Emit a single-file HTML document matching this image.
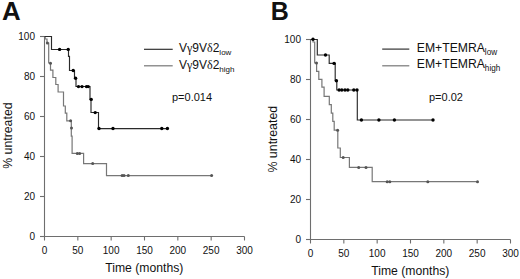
<!DOCTYPE html>
<html><head><meta charset="utf-8"><style>
html,body{margin:0;padding:0;background:#fff;}
svg{display:block;}
text{font-family:"Liberation Sans", sans-serif;fill:#111;}
</style></head><body>
<svg width="520" height="279" viewBox="0 0 520 279">
<rect width="520" height="279" fill="#fff"/>
<path d="M44.5,36 V236.5 H244.5" fill="none" stroke="#6e6e6e" stroke-width="1.1"/>
<line x1="40" y1="236.5" x2="44.5" y2="236.5" stroke="#6e6e6e" stroke-width="1.1"/>
<text x="35" y="240.1" text-anchor="end" font-size="10">0</text>
<line x1="40" y1="196.5" x2="44.5" y2="196.5" stroke="#6e6e6e" stroke-width="1.1"/>
<text x="35" y="200.1" text-anchor="end" font-size="10">20</text>
<line x1="40" y1="156.5" x2="44.5" y2="156.5" stroke="#6e6e6e" stroke-width="1.1"/>
<text x="35" y="160.1" text-anchor="end" font-size="10">40</text>
<line x1="40" y1="116.5" x2="44.5" y2="116.5" stroke="#6e6e6e" stroke-width="1.1"/>
<text x="35" y="120.1" text-anchor="end" font-size="10">60</text>
<line x1="40" y1="76.5" x2="44.5" y2="76.5" stroke="#6e6e6e" stroke-width="1.1"/>
<text x="35" y="80.1" text-anchor="end" font-size="10">80</text>
<line x1="40" y1="36.5" x2="44.5" y2="36.5" stroke="#6e6e6e" stroke-width="1.1"/>
<text x="35" y="40.1" text-anchor="end" font-size="10">100</text>
<line x1="44.5" y1="236.5" x2="44.5" y2="240.5" stroke="#6e6e6e" stroke-width="1.1"/>
<text x="44.5" y="253.6" text-anchor="middle" font-size="10">0</text>
<line x1="77.83333333333334" y1="236.5" x2="77.83333333333334" y2="240.5" stroke="#6e6e6e" stroke-width="1.1"/>
<text x="77.83333333333334" y="253.6" text-anchor="middle" font-size="10">50</text>
<line x1="111.16666666666667" y1="236.5" x2="111.16666666666667" y2="240.5" stroke="#6e6e6e" stroke-width="1.1"/>
<text x="111.16666666666667" y="253.6" text-anchor="middle" font-size="10">100</text>
<line x1="144.5" y1="236.5" x2="144.5" y2="240.5" stroke="#6e6e6e" stroke-width="1.1"/>
<text x="144.5" y="253.6" text-anchor="middle" font-size="10">150</text>
<line x1="177.83333333333334" y1="236.5" x2="177.83333333333334" y2="240.5" stroke="#6e6e6e" stroke-width="1.1"/>
<text x="177.83333333333334" y="253.6" text-anchor="middle" font-size="10">200</text>
<line x1="211.16666666666666" y1="236.5" x2="211.16666666666666" y2="240.5" stroke="#6e6e6e" stroke-width="1.1"/>
<text x="211.16666666666666" y="253.6" text-anchor="middle" font-size="10">250</text>
<line x1="244.5" y1="236.5" x2="244.5" y2="240.5" stroke="#6e6e6e" stroke-width="1.1"/>
<text x="244.5" y="253.6" text-anchor="middle" font-size="10">300</text>
<path d="M44.5,36.5 H45.2 V39 H47 V43 H48.7 V63 H50.5 V70.2 H52.9 V77.5 H55.8 V84.5 H58.1 V92 H63.5 V106 H65.3 V113.2 H66.8 V120.8 H71.3 V136.2 H72.1 V153.4 H83.6 V163.6 H106.5 V175.6 H211.6" fill="none" stroke="#777777" stroke-width="1.2"/>
<circle cx="47.4" cy="42.9" r="1.5" fill="#555"/>
<circle cx="50.5" cy="63.2" r="1.5" fill="#555"/>
<circle cx="70.6" cy="120.8" r="1.5" fill="#555"/>
<circle cx="71.5" cy="128.1" r="1.5" fill="#555"/>
<circle cx="77.3" cy="153.4" r="1.5" fill="#555"/>
<circle cx="79.6" cy="153.4" r="1.5" fill="#555"/>
<circle cx="92.7" cy="163.6" r="1.5" fill="#555"/>
<circle cx="122.1" cy="175.6" r="1.5" fill="#555"/>
<circle cx="124" cy="175.6" r="1.5" fill="#555"/>
<circle cx="128.3" cy="175.6" r="1.5" fill="#555"/>
<circle cx="211.6" cy="175.6" r="1.5" fill="#555"/>
<path d="M44.5,36.5 H51.5 V49.5 H68.5 V56.3 H69.5 V70.5 H74.5 V78.5 H76 V86.5 H90 V99.5 H91 V112.5 H98.5 V128.6 H167.7" fill="none" stroke="#2a2a2a" stroke-width="1.15"/>
<circle cx="59.6" cy="49.4" r="1.7" fill="#000"/>
<circle cx="68.2" cy="49.4" r="1.7" fill="#000"/>
<circle cx="73.2" cy="70.5" r="1.7" fill="#000"/>
<circle cx="75.6" cy="78.2" r="1.7" fill="#000"/>
<circle cx="78.5" cy="86.6" r="1.7" fill="#000"/>
<circle cx="82" cy="86.6" r="1.7" fill="#000"/>
<circle cx="86.5" cy="86.6" r="1.7" fill="#000"/>
<circle cx="88.2" cy="86.6" r="1.7" fill="#000"/>
<circle cx="91.2" cy="99.4" r="1.7" fill="#000"/>
<circle cx="95.2" cy="112.6" r="1.7" fill="#000"/>
<circle cx="99" cy="128.5" r="1.7" fill="#000"/>
<circle cx="113" cy="128.5" r="1.7" fill="#000"/>
<circle cx="161.8" cy="128.5" r="1.7" fill="#000"/>
<circle cx="167.4" cy="128.5" r="1.7" fill="#000"/>
<path d="M310.5,39 V239.5 H510.5" fill="none" stroke="#6e6e6e" stroke-width="1.1"/>
<line x1="306" y1="239.5" x2="310.5" y2="239.5" stroke="#6e6e6e" stroke-width="1.1"/>
<text x="301" y="243.1" text-anchor="end" font-size="10">0</text>
<line x1="306" y1="199.5" x2="310.5" y2="199.5" stroke="#6e6e6e" stroke-width="1.1"/>
<text x="301" y="203.1" text-anchor="end" font-size="10">20</text>
<line x1="306" y1="159.5" x2="310.5" y2="159.5" stroke="#6e6e6e" stroke-width="1.1"/>
<text x="301" y="163.1" text-anchor="end" font-size="10">40</text>
<line x1="306" y1="119.5" x2="310.5" y2="119.5" stroke="#6e6e6e" stroke-width="1.1"/>
<text x="301" y="123.1" text-anchor="end" font-size="10">60</text>
<line x1="306" y1="79.5" x2="310.5" y2="79.5" stroke="#6e6e6e" stroke-width="1.1"/>
<text x="301" y="83.1" text-anchor="end" font-size="10">80</text>
<line x1="306" y1="39.5" x2="310.5" y2="39.5" stroke="#6e6e6e" stroke-width="1.1"/>
<text x="301" y="43.1" text-anchor="end" font-size="10">100</text>
<line x1="310.5" y1="239.5" x2="310.5" y2="243.5" stroke="#6e6e6e" stroke-width="1.1"/>
<text x="310.5" y="257.2" text-anchor="middle" font-size="10">0</text>
<line x1="343.8333333333333" y1="239.5" x2="343.8333333333333" y2="243.5" stroke="#6e6e6e" stroke-width="1.1"/>
<text x="343.8333333333333" y="257.2" text-anchor="middle" font-size="10">50</text>
<line x1="377.1666666666667" y1="239.5" x2="377.1666666666667" y2="243.5" stroke="#6e6e6e" stroke-width="1.1"/>
<text x="377.1666666666667" y="257.2" text-anchor="middle" font-size="10">100</text>
<line x1="410.5" y1="239.5" x2="410.5" y2="243.5" stroke="#6e6e6e" stroke-width="1.1"/>
<text x="410.5" y="257.2" text-anchor="middle" font-size="10">150</text>
<line x1="443.83333333333337" y1="239.5" x2="443.83333333333337" y2="243.5" stroke="#6e6e6e" stroke-width="1.1"/>
<text x="443.83333333333337" y="257.2" text-anchor="middle" font-size="10">200</text>
<line x1="477.16666666666663" y1="239.5" x2="477.16666666666663" y2="243.5" stroke="#6e6e6e" stroke-width="1.1"/>
<text x="477.16666666666663" y="257.2" text-anchor="middle" font-size="10">250</text>
<line x1="510.5" y1="239.5" x2="510.5" y2="243.5" stroke="#6e6e6e" stroke-width="1.1"/>
<text x="510.5" y="257.2" text-anchor="middle" font-size="10">300</text>
<path d="M310.5,39.5 H313 V42 H314.7 V63 H316.6 V71.4 H318.8 V79.3 H321.9 V87.2 H324.1 V96.3 H329.3 V104.6 H331.3 V113.1 H332.8 V121.3 H334.2 V130.2 H337.8 V148 H340.3 V157.5 H349.4 V167.4 H372.2 V181.7 H477.5" fill="none" stroke="#777777" stroke-width="1.2"/>
<circle cx="316.5" cy="62.9" r="1.5" fill="#555"/>
<circle cx="337.6" cy="130.2" r="1.5" fill="#555"/>
<circle cx="343.2" cy="157.5" r="1.5" fill="#555"/>
<circle cx="358.7" cy="167.4" r="1.5" fill="#555"/>
<circle cx="366" cy="167.4" r="1.5" fill="#555"/>
<circle cx="387.2" cy="181.7" r="1.5" fill="#555"/>
<circle cx="389.8" cy="181.7" r="1.5" fill="#555"/>
<circle cx="427.8" cy="181.7" r="1.5" fill="#555"/>
<circle cx="477.5" cy="181.7" r="1.5" fill="#555"/>
<path d="M310.5,39.5 H317.3 V55 H329.2 V63.4 H335.2 V80.7 H336.8 V90 H357.3 V120 H433" fill="none" stroke="#2a2a2a" stroke-width="1.15"/>
<circle cx="313" cy="39.3" r="1.7" fill="#000"/>
<circle cx="325.5" cy="55" r="1.7" fill="#000"/>
<circle cx="334.1" cy="63.4" r="1.7" fill="#000"/>
<circle cx="336.4" cy="80.8" r="1.7" fill="#000"/>
<circle cx="339.1" cy="90" r="1.7" fill="#000"/>
<circle cx="341.8" cy="90" r="1.7" fill="#000"/>
<circle cx="345" cy="90" r="1.7" fill="#000"/>
<circle cx="347.8" cy="90" r="1.7" fill="#000"/>
<circle cx="353.8" cy="90" r="1.7" fill="#000"/>
<circle cx="357" cy="90" r="1.7" fill="#000"/>
<circle cx="361.4" cy="120" r="1.7" fill="#000"/>
<circle cx="378.9" cy="120" r="1.7" fill="#000"/>
<circle cx="394.4" cy="120" r="1.7" fill="#000"/>
<circle cx="433" cy="120" r="1.7" fill="#000"/>
<text x="2" y="19.5" font-size="25" font-weight="bold" transform="translate(2,0) scale(1.035,1) translate(-2,0)">A</text>
<text x="270.7" y="20" font-size="25" font-weight="bold">B</text>
<text transform="translate(12.3,135.6) rotate(-90)" text-anchor="middle" font-size="12.3">% untreated</text>
<text transform="translate(277,139.2) rotate(-90)" text-anchor="middle" font-size="12.4">% untreated</text>
<text x="144.3" y="271.9" text-anchor="middle" font-size="12.2">Time (months)</text>
<text x="410.3" y="275.3" text-anchor="middle" font-size="12.2">Time (months)</text>
<line x1="144" y1="49.3" x2="172.7" y2="49.3" stroke="#2a2a2a" stroke-width="1.15"/>
<line x1="144" y1="65.8" x2="172.7" y2="65.8" stroke="#777777" stroke-width="1.2"/>
<text x="179" y="51.9" font-size="12">V<tspan font-family="Liberation Serif">&#947;</tspan>9V<tspan font-family="Liberation Serif">&#948;</tspan>2<tspan font-size="8" dy="3.4">low</tspan></text>
<text x="179" y="68.5" font-size="12">V<tspan font-family="Liberation Serif">&#947;</tspan>9V<tspan font-family="Liberation Serif">&#948;</tspan>2<tspan font-size="8" dy="3.4">high</tspan></text>
<text x="172" y="100.6" font-size="11">p=0.014</text>
<line x1="382.2" y1="49.1" x2="409.3" y2="49.1" stroke="#2a2a2a" stroke-width="1.15"/>
<line x1="382.2" y1="65.8" x2="409.3" y2="65.8" stroke="#777777" stroke-width="1.2"/>
<text x="416.8" y="51.6" font-size="12.2">EM+TEMRA<tspan font-size="8.2" dy="3.2">low</tspan></text>
<text x="416.8" y="67.9" font-size="12.2">EM+TEMRA<tspan font-size="8.2" dy="3.2">high</tspan></text>
<text x="429" y="100.6" font-size="11">p=0.02</text>
</svg>
</body></html>
